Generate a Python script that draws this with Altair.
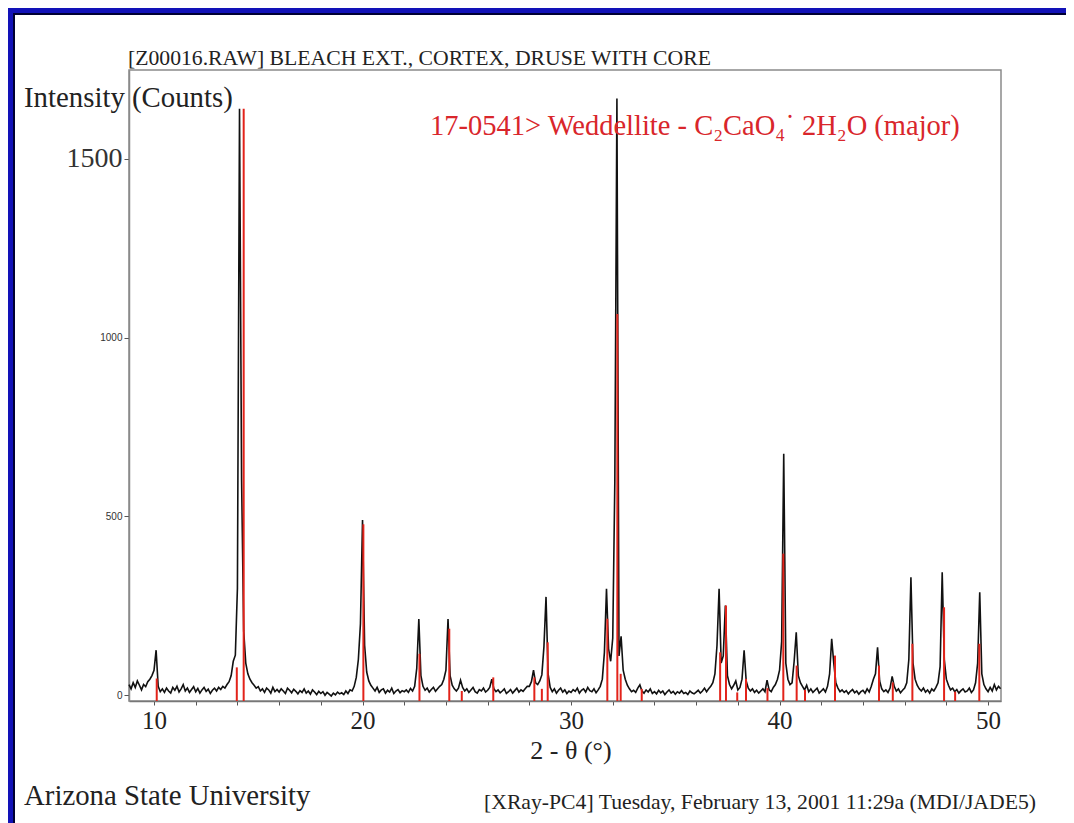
import altair as alt
import pandas as pd

# ---------------- data ----------------
scan_start = 8.8      # first 2-theta of the scan (deg)
scan_step = 0.1       # step of the scan (deg)
counts = [
    30, 18,                                         # 8.8 - 8.9
    35, 22, 40, 28, 15, 30, 24, 38, 45, 55,         # 9.x
    70, 126, 25, 10, 18, 8, 20, 12, 6, 22,          # 10.x
    14, 25, 9, 18, 30, 12, 20, 8, 16, 24,           # 11.x
    10, 19, 6, 15, 22, 11, 17, 5, 14, 20,           # 12.x
    12, 22, 16, 25, 20, 30, 38, 55, 95, 112,        # 13.x
    300, 1640, 600, 180, 90, 60, 45, 35, 28, 20,    # 14.x
    24, 12, 18, 8, 20, 15, 6, 22, 10, 16,           # 15.x
    9, 18, 12, 5, 20, 14, 7, 17, 11, 4,             # 16.x
    13, 8, 18, 6, 12, 3, 15, 9, 2, 11,              # 17.x
    5, 10, 0, 8, 3, -2, 6, 1, 9, 4,                 # 18.x
    7, 2, 12, 5, 15, 12, 25, 50, 100, 200,          # 19.x
    490, 140, 65, 40, 28, 20, 12, 22, 8, 15,        # 20.x
    18, 6, 14, 9, 20, 5, 12, 16, 7, 13,             # 21.x
    10, 15, 8, 19, 12, 25, 75, 213, 55, 25,         # 22.x
    14, 20, 9, 16, 22, 11, 18, 25, 30, 45,          # 23.x
    70, 213, 55, 28, 18, 12, 20, 42, 22, 12,        # 24.x
    18, 8, 15, 22, 10, 6, 16, 12, 20, 9,            # 25.x
    14, 22, 45, 18, 10, 15, 7, 12, 18, 5,           # 26.x
    10, 16, 6, 13, 20, 9, 15, 11, 18, 25,           # 27.x
    25, 38, 70, 35, 30, 40, 57, 136, 275, 60,       # 28.x
    22, 10, 18, 6, 14, 20, 9, 15, 5, 12,            # 29.x
    8, 16, 11, 20, 6, 14, 18, 9, 22, 13,            # 30.x
    10, 18, 7, 15, 25, 45, 120, 298, 130, 95,       # 31.x
    160, 600, 1668, 110, 165, 70, 45, 28, 18, 10,   # 32.x
    14, 8, 20, 29, 12, 6, 15, 9, 18, 5,             # 33.x
    10, 4, 14, 7, 12, 2, 9, 15, 6, 11,              # 34.x
    3, 10, 6, 13, 5, 8, 2, 12, 7, 4,                # 35.x
    9, 14, 6, 12, 20, 10, 18, 25, 35, 60,           # 36.x
    140, 298, 90, 110, 251, 55, 30, 18, 28, 40,     # 37.x
    15, 22, 45, 126, 40, 20, 12, 18, 8, 14,         # 38.x
    6, 12, 18, 10, 42, 15, 10, 22, 30, 45,          # 39.x
    70, 150, 675, 90, 45, 30, 35, 95, 176, 55,      # 40.x
    35, 25, 15, 28, 10, 18, 8, 14, 20, 6,           # 41.x
    12, 18, 9, 25, 60, 158, 90, 35, 20, 10,         # 42.x
    15, 8, 13, 4, 11, 16, 7, 12, 3, 10,             # 43.x
    14, 6, 18, 9, 25, 45, 60, 134, 40, 18,          # 44.x
    10, 15, 8, 20, 53, 25, 12, 18, 7, 14,           # 45.x
    20, 35, 100, 330, 90, 45, 28, 18, 12, 20,       # 46.x
    9, 15, 6, 18, 12, 22, 35, 80, 344, 100,         # 47.x
    45, 28, 15, 20, 10, 16, 6, 13, 18, 9,           # 48.x
    12, 20, 8, 15, 35, 90, 288, 60, 30, 18,         # 49.x
    10, 22, 12, 30, 15, 25, 18,                     # 50.0 - 50.6
]

# reference pattern 17-0541 (Weddellite) stick lines
stick_pos = [10.13, 13.97, 14.30, 20.04, 22.73, 24.16, 24.76, 26.27, 28.24, 28.60,
             28.88, 31.74, 32.22, 32.38, 33.39, 37.15, 37.43, 37.97, 38.39, 39.42,
             40.18, 40.82, 41.22, 42.66, 44.77, 45.43, 46.37, 47.89, 48.42, 49.58]
stick_height = [47, 78, 1640, 478, 116, 186, 12, 50, 50, 18,
                148, 214, 1066, 60, 18, 120, 251, 8, 46, 20,
                396, 83, 15, 111, 83, 36, 144, 246, 10, 144]

x_ticks = list(range(10, 51, 2))
y_ticks = [0, 500, 1000, 1500]

title_text = "[Z00016.RAW] BLEACH EXT., CORTEX, DRUSE WITH CORE"
ytitle_text = "Intensity (Counts)"
xtitle_text = "2 - θ (°)"
legend_text = "17-0541> Weddellite - C₂CaO₄˙ 2H₂O (major)"
footer_left = "Arizona State University"
footer_right = "[XRay-PC4] Tuesday, February 13, 2001 11:29a (MDI/JADE5)"

# ---------------- build tables ----------------
scan = pd.DataFrame({
    "two_theta": [round(scan_start + scan_step * i, 2) for i in range(len(counts))],
    "counts": counts,
})
sticks = pd.DataFrame({"pos": stick_pos, "height": stick_height})

W, H = 872, 631
PAD_L, PAD_T, PAD_R, PAD_B = 121, 62, 65, 122

xs = alt.Scale(domain=[8.8, 50.62], nice=False, zero=False)
ys = alt.Scale(domain=[-16, 1748], nice=False, zero=False)

x_axis = alt.Axis(
    values=x_ticks, labelExpr="datum.value % 10 == 0 ? datum.label : ''",
    format="d", title=None, grid=False, tickSize=4, tickColor="#555555",
    domainColor="#777777", domainWidth=1.5, labelFont="Liberation Serif",
    labelFontSize=25, labelColor="#222222", labelPadding=3, labelFlush=False,
)
y_axis = alt.Axis(
    values=y_ticks, format="d", title=None, grid=False, tickSize=5,
    tickColor="#555555", domainColor="#8a8a8a", domainWidth=1.5,
    labelFont={"condition": {"test": "datum.value == 1500", "value": "Liberation Serif"},
               "value": "Liberation Sans"},
    labelFontSize={"condition": {"test": "datum.value == 1500", "value": 28}, "value": 10},
    labelColor="#333333", labelPadding=2,
)

trace = alt.Chart(scan).mark_line(color="#111111", strokeWidth=1.6).encode(
    x=alt.X("two_theta:Q", scale=xs, axis=x_axis),
    y=alt.Y("counts:Q", scale=ys, axis=y_axis),
)

rules = alt.Chart(sticks).mark_rule(color="#e2231a", strokeWidth=2).encode(
    x=alt.X("pos:Q", scale=xs),
    y=alt.Y("height:Q", scale=ys),
    y2=alt.value(H),
)

one = alt.Data(values=[{"k": 1}])


def label(text, x, y, size, color="#222222", align="left", font="Liberation Serif"):
    return alt.Chart(one).mark_text(
        text=text, align=align, baseline="middle", font=font,
        fontSize=size, color=color,
    ).encode(x=alt.value(x), y=alt.value(y))


def band(x, x2, y, y2, color):
    return alt.Chart(one).mark_rect(color=color).encode(
        x=alt.value(x), x2=alt.value(x2), y=alt.value(y), y2=alt.value(y2)
    )


blue = "#1212b8"
frame = [
    band(-PAD_L, W + PAD_R, -PAD_T, -PAD_T + 5, blue),
    band(-PAD_L, W + PAD_R, -PAD_T + 5, -PAD_T + 7, "#000033"),
    band(-PAD_L, -PAD_L + 5, -PAD_T, H + PAD_B, blue),
    band(-PAD_L + 5, -PAD_L + 7, -PAD_T + 5, H + PAD_B, "#000033"),
]

texts = [
    label(title_text, -1, -12, 21.7),
    label(ytitle_text, -105, 28, 28.8),
    label(legend_text, 301, 56, 28.5, color="#d9262b"),
    label(xtitle_text, 442, 681, 26, align="center"),
    label(footer_left, -105, 726, 28.8),
    label(footer_right, 907, 732, 21.7, align="right"),
]

chart = alt.layer(trace, rules, *texts, *frame).properties(
    width=W, height=H,
    autosize=alt.AutoSizeParams(type="none"),
    padding={"left": PAD_L, "top": PAD_T, "right": PAD_R, "bottom": PAD_B},
    background="white",
).configure_view(stroke="#8a8a8a", strokeWidth=1.5)

chart.save("out.html", embed_options={"renderer": "svg", "actions": False})
